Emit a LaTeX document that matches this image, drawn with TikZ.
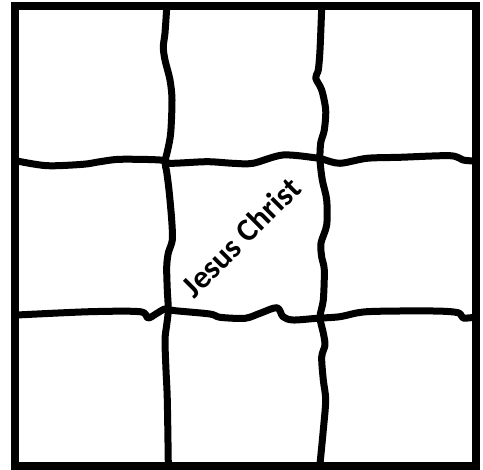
\documentclass[tikz,border=0pt]{standalone}
\usepackage{fontspec}
\newfontfamily\labelfont{Carlito}
\tikzset{
  frame/.style={draw=black, line width=8pt},
  gridline/.style={draw=black, line width=7pt, line cap=round, line join=round},
  lbl/.style={font=\labelfont\bfseries\fontsize{32}{38}\selectfont, inner sep=0pt}
}
\begin{document}
\begin{tikzpicture}[x=1pt,y=-1pt]
\useasboundingbox (0,0) rectangle (483,470);
\fill[white] (0,0) rectangle (483,470);
% vertical line 1
\draw[gridline] plot[smooth, tension=0.5] coordinates {(166.7,8) (165,33) (163.3,47) (165,60) (170,80) (172,100) (170.7,133) (167.7,150) (165,162) (166.7,172) (169,190) (171.7,220) (172.3,240) (168.3,253) (166.7,267) (167.3,290) (168.3,310) (166.7,325) (165,340) (166,370) (167.3,400) (168.3,464)};
% vertical line 2
\draw[gridline] plot[smooth, tension=0.5] coordinates {(321.7,8) (320,50) (318.3,70) (315.7,78) (321.7,90) (325.7,110) (324.3,130) (320.7,143) (320,160) (322.3,180) (326.7,200) (326.7,225) (321,243) (321.7,257) (324.3,270) (323.3,300) (320,317) (323.3,333) (325,345) (321.7,357) (323.3,380) (325.7,400) (323.3,430) (320,464)};
% horizontal line 1
\draw[gridline] plot[smooth, tension=0.5] coordinates {(17,161) (47,165.7) (83,164.3) (100,161.7) (120,159.3) (160,160) (170,163.3) (207,161.7) (233,163.3) (253,163.3) (283,155) (317,158) (323,159.3) (340,163.3) (367,158.3) (400,157.3) (450,155.7) (463,160) (474,161)};
% horizontal line 2
\draw[gridline] plot[smooth, tension=0.5] coordinates {(17,315) (90,311.7) (140,311.7) (148,318) (157,313.3) (165,309) (175,310.7) (210,314) (220,317.3) (245,318.3) (260,313.3) (277,307.7) (283,316.7) (293,320) (317,318.3) (340,316.7) (367,311.7) (433,311) (458,312.7) (463,318) (474,317.3)};
% outer frame
\draw[frame] (15,6) rectangle (476,466);
% label
\node[lbl, rotate=45] (jc) at (241,237) {Jesus Christ};
\end{tikzpicture}
\end{document}
